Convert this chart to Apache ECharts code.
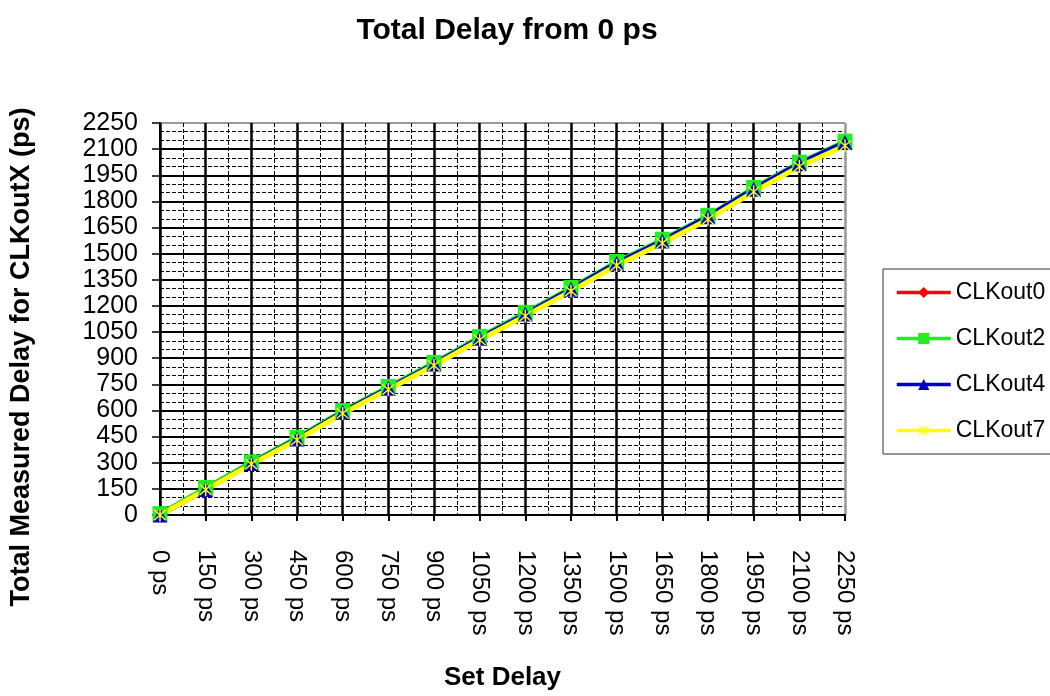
<!DOCTYPE html>
<html>
<head>
<meta charset="utf-8">
<script src="https://cdn.jsdelivr.net/npm/echarts@6/dist/echarts.min.js"></script>
<style>
html,body{margin:0;padding:0;background:#fff;}
#chart{width:1050px;height:696px;}
</style>
</head>
<body>
<div id="chart"></div>
<script>
// ---- data ----
const categories = ['0 ps','150 ps','300 ps','450 ps','600 ps','750 ps','900 ps','1050 ps','1200 ps','1350 ps','1500 ps','1650 ps','1800 ps','1950 ps','2100 ps','2250 ps'];
const clkout0 = [3, 150, 299, 439, 592, 731, 869, 1017, 1155, 1298, 1447, 1575, 1713, 1872, 2018, 2140];
const clkout2 = [8, 158, 305, 446, 600, 738, 876, 1025, 1163, 1306, 1455, 1583, 1720, 1880, 2025, 2146];
const clkout4 = [0, 146, 295, 436, 590, 728, 866, 1014, 1153, 1296, 1445, 1573, 1712, 1870, 2016, 2138];
const clkout7 = [0, 145, 292, 430, 583, 720, 858, 1005, 1142, 1285, 1432, 1560, 1697, 1855, 2000, 2120];
const yMin = 0, yMax = 2250, yStep = 150;
const titleText = 'Total Delay from 0 ps';
const xName = 'Set Delay';
const yName = 'Total Measured Delay for CLKoutX (ps)';

const FONT = '"Liberation Sans", Arial, sans-serif';
const asterisk = 'path://M-1,-10L1,-10L1,10L-1,10Z M-7.3,-8.7L8.7,7.3L7.3,8.7L-8.7,-7.3Z M8.7,-7.3L-7.3,8.7L-8.7,7.3L7.3,-8.7Z';

const ySplitColors = [];
for (let v = yMin; v <= yMax; v += yStep) ySplitColors.push(v === yMax ? '#999' : '#000');
const xSplitColors = categories.map((c, i) => i === categories.length - 1 ? '#999' : '#000');

const chart = echarts.init(document.getElementById('chart'), null, {renderer: 'canvas'});
chart.setOption({
  animation: false,
  backgroundColor: '#fff',
  textStyle: {fontFamily: FONT},
  title: {
    text: titleText,
    left: 502, top: 11,
    textAlign: 'center',
    textStyle: {fontFamily: FONT, fontSize: 30, fontWeight: 'bold', color: '#000'}
  },
  grid: {left: 160, right: 205, top: 123, bottom: 164, containLabel: false},
  legend: {
    orient: 'vertical',
    left: 883, top: 269,
    padding: [11, 12, 11, 12],
    itemWidth: 54, itemHeight: 14,
    itemGap: 21,
    borderColor: '#333', borderWidth: 1,
    lineStyle: {width: 3.5},
    textStyle: {fontFamily: FONT, fontSize: 23, color: '#000', lineHeight: 25},
    data: ['CLKout0', 'CLKout2', 'CLKout4', 'CLKout7']
  },
  xAxis: [{
    type: 'category',
    data: categories,
    boundaryGap: false,
    name: xName,
    nameLocation: 'middle',
    nameGap: 150,
    nameTextStyle: {fontFamily: FONT, fontSize: 26, fontWeight: 'bold', color: '#000'},
    axisLine: {show: true, lineStyle: {color: '#000', width: 2}},
    axisTick: {show: true, length: 6, lineStyle: {color: '#000', width: 2}},
    axisLabel: {rotate: -90, margin: 35, fontFamily: FONT, fontSize: 24, color: '#000', interval: 0},
    splitLine: {show: false}
  }, {
    type: 'value',
    min: 0, max: categories.length - 1, interval: 1,
    position: 'top',
    axisLine: {show: false}, axisTick: {show: false}, axisLabel: {show: false},
    splitLine: {show: true, lineStyle: {color: xSplitColors, width: 2.5}},
    minorTick: {show: false, splitNumber: 2},
    minorSplitLine: {show: true, lineStyle: {color: '#000', width: 1, type: [4, 2]}}
  }],
  yAxis: {
    type: 'value',
    min: yMin, max: yMax, interval: yStep,
    axisLine: {show: true, lineStyle: {color: '#000', width: 2}},
    axisTick: {show: true, length: 8, lineStyle: {color: '#000', width: 1.5}},
    axisLabel: {margin: 22, fontFamily: FONT, fontSize: 25, color: '#000', formatter: v => String(v)},
    splitLine: {show: true, lineStyle: {color: ySplitColors, width: 2}},
    minorTick: {show: false, splitNumber: 3},
    minorSplitLine: {show: true, lineStyle: {color: '#000', width: 1, type: [4, 2]}}
  },
  graphic: [{
    type: 'text',
    x: 22, y: 357,
    rotation: Math.PI / 2,
    style: {
      text: yName,
      fill: '#000',
      font: 'bold 27px ' + FONT,
      textAlign: 'center',
      textVerticalAlign: 'middle'
    }
  }],
  series: [{
    name: 'CLKout0', type: 'line', data: clkout0,
    symbol: 'diamond', symbolSize: 14, showAllSymbol: true,
    lineStyle: {color: '#ff0000', width: 4},
    itemStyle: {color: '#ff0000'}
  }, {
    name: 'CLKout2', type: 'line', data: clkout2,
    symbol: 'rect', symbolSize: 15, showAllSymbol: true,
    lineStyle: {color: '#22ee22', width: 4},
    itemStyle: {color: '#22ee22'}
  }, {
    name: 'CLKout4', type: 'line', data: clkout4,
    symbol: 'triangle', symbolSize: 15, showAllSymbol: true,
    lineStyle: {color: '#0000cc', width: 5},
    itemStyle: {color: '#0000cc'}
  }, {
    name: 'CLKout7', type: 'line', data: clkout7,
    symbol: asterisk, symbolSize: 13, showAllSymbol: true,
    lineStyle: {color: '#ffff00', width: 5},
    itemStyle: {color: '#ffff00'}
  }]
});
</script>
</body>
</html>
